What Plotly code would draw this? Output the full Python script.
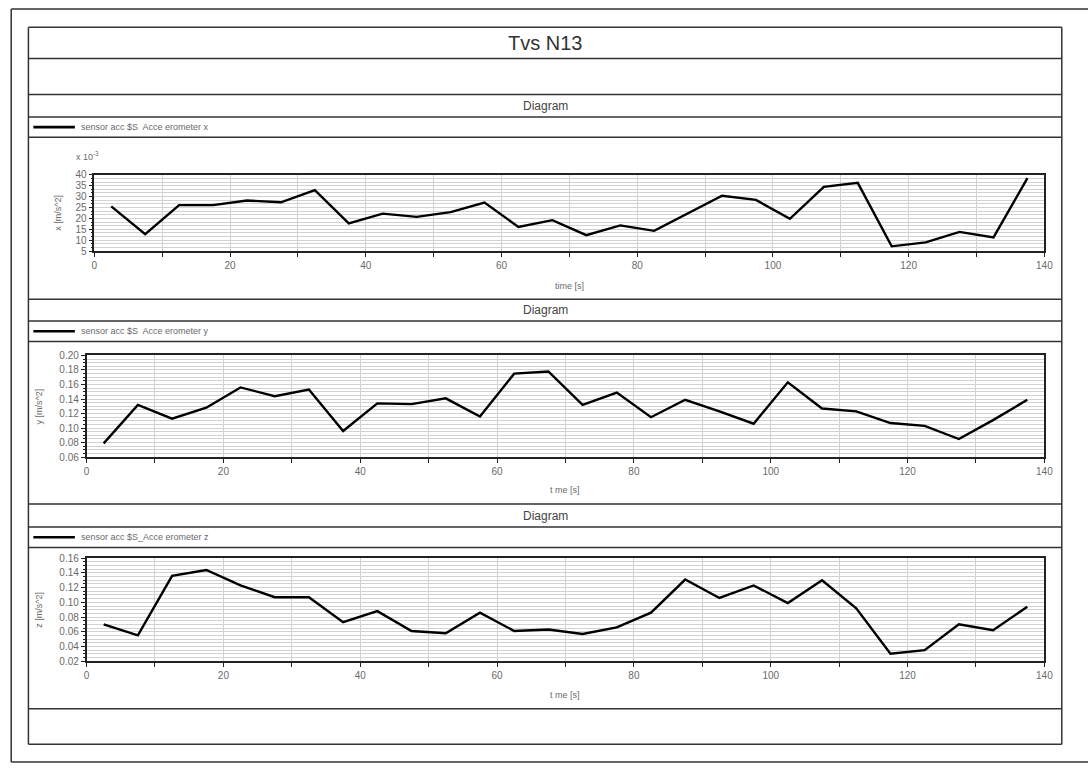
import plotly.graph_objects as go

W, H = 1088, 770

# Sample times [s]
time_s = [2.5, 7.5, 12.5, 17.5, 22.5, 27.5, 32.5, 37.5, 42.5, 47.5,
          52.5, 57.5, 62.5, 67.5, 72.5, 77.5, 82.5, 87.5, 92.5, 97.5,
          102.5, 107.5, 112.5, 117.5, 122.5, 127.5, 132.5, 137.5]

# Accelerometer x, in units of 1e-3 m/s^2
accel_x_milli = [25.5, 12.8, 26.1, 26.1, 28.2, 27.4, 33.0, 17.7, 22.2, 20.7,
                 22.9, 27.3, 16.1, 19.2, 12.3, 16.8, 14.3, 22.2, 30.4, 28.5,
                 19.8, 34.5, 36.3, 7.2, 9.0, 13.8, 11.3, 38.5]

# Accelerometer y [m/s^2]
accel_y = [0.079, 0.132, 0.113, 0.128, 0.156, 0.144, 0.153, 0.096, 0.134, 0.133,
           0.141, 0.116, 0.175, 0.178, 0.132, 0.149, 0.115, 0.139, 0.123, 0.106,
           0.163, 0.127, 0.123, 0.107, 0.103, 0.085, 0.111, 0.139]

# Accelerometer z [m/s^2]
accel_z = [0.070, 0.055, 0.136, 0.144, 0.123, 0.107, 0.107, 0.073, 0.088, 0.061,
           0.058, 0.086, 0.061, 0.063, 0.057, 0.066, 0.086, 0.131, 0.106, 0.123,
           0.099, 0.130, 0.092, 0.030, 0.035, 0.070, 0.062, 0.094]

page_title = "Tvs N13"
panel_title = "Diagram"
legend_labels = ["sensor acc $S  Acce erometer x",
                 "sensor acc $S  Acce erometer y",
                 "sensor acc $S_Acce erometer z"]
y_titles = ["x [m/s^2]", "y [m/s^2]", "z [m/s^2]"]
x_titles = ["time [s]", "t me [s]", "t me [s]"]
x_range = [0, 140]
y_ranges = [[5, 40], [0.06, 0.20], [0.02, 0.16]]
y_dticks = [5, 0.02, 0.02]
y_minor = [5 / 3, 0.005, 0.005]
y_formats = ["d", ".2f", ".2f"]
series = [accel_x_milli, accel_y, accel_z]


def px(x):
    return x / W


def py(y):
    return 1 - y / H


# Panel geometry in pixels: (left, right, top, bottom) of each plot area
plot_boxes = [(92.3, 1053, 171.5, 249),
              (84.5, 1053, 355, 458.3),
              (84.5, 1053, 561, 665.5)]
# Rows of each panel: diagram title row top, legend row top, plot row top, plot row bottom
panel_rows = [(90, 112.7, 133.3, 298),
              (298, 320, 340.7, 506),
              (506, 529.3, 550, 714)]

BOX_L, BOX_R = 25.7, 1070.6
GRID = "#d2d2d2"
TXT = "#6a6a6a"
FONT = "Liberation Sans, Arial, sans-serif"

fig = go.Figure()
layout = dict(width=W, height=H, margin=dict(l=0, r=0, t=0, b=0),
              paper_bgcolor="white", plot_bgcolor="white", showlegend=False)

annotations = []
shapes = []

for i in range(3):
    xa = "xaxis" if i == 0 else f"xaxis{i + 1}"
    ya = "yaxis" if i == 0 else f"yaxis{i + 1}"
    xr = "x" if i == 0 else f"x{i + 1}"
    yr = "y" if i == 0 else f"y{i + 1}"
    l, r, t, b = plot_boxes[i]
    fig.add_trace(go.Scatter(x=time_s, y=series[i], mode="lines",
                             line=dict(color="black", width=2.4),
                             xaxis=xr, yaxis=yr, hoverinfo="skip"))
    layout[xa] = dict(domain=[px(l), px(r)], range=x_range, anchor=yr,
                      dtick=20, tick0=0, showgrid=True, gridcolor=GRID, gridwidth=1,
                      ticks="outside", ticklen=4, tickcolor="#222",
                      minor=dict(dtick=10, showgrid=True, gridcolor=GRID,
                                 ticks="outside", ticklen=4, tickcolor="#222"),
                      showline=True, linecolor="#222", linewidth=1.5, mirror=True,
                      zeroline=False, tickfont=dict(family=FONT, size=10, color=TXT),
                      fixedrange=True)
    layout[ya] = dict(domain=[py(b), py(t)], range=y_ranges[i], anchor=xr,
                      dtick=y_dticks[i], tick0=y_ranges[i][0], tickformat=y_formats[i],
                      showgrid=True, gridcolor=GRID, gridwidth=1,
                      ticks="outside", ticklen=4, tickcolor="#222",
                      minor=dict(dtick=y_minor[i], showgrid=True, gridcolor=GRID,
                                 ticks="outside", ticklen=2, tickcolor="#222"),
                      showline=True, linecolor="#222", linewidth=1.5, mirror=True,
                      zeroline=False, tickfont=dict(family=FONT, size=10, color=TXT),
                      fixedrange=True)

    # y-axis title
    annotations.append(dict(text=y_titles[i], x=px(l - (37 if i == 0 else 48)),
                            y=py((t + b) / 2), xref="paper", yref="paper",
                            textangle=-90, showarrow=False,
                            xanchor="center", yanchor="middle",
                            font=dict(family=FONT, size=9, color=TXT)))
    # x-axis title
    xt_y = [284, 492, 700][i]
    annotations.append(dict(text=x_titles[i], x=px((l + r) / 2), y=py(xt_y),
                            xref="paper", yref="paper", showarrow=False,
                            xanchor="center", yanchor="middle",
                            font=dict(family=FONT, size=9, color=TXT)))

    r0, r1, r2, r3 = panel_rows[i]
    # "Diagram" heading
    annotations.append(dict(text=panel_title, x=px((BOX_L + BOX_R) / 2),
                            y=py((r0 + r1) / 2), xref="paper", yref="paper",
                            showarrow=False, xanchor="center", yanchor="middle",
                            font=dict(family=FONT, size=12, color="#444")))
    # Legend entry
    ly = (r1 + r2) / 2
    shapes.append(dict(type="line", xref="paper", yref="paper",
                       x0=px(30.7), x1=px(72.7), y0=py(ly), y1=py(ly),
                       line=dict(color="black", width=2.6)))
    annotations.append(dict(text=legend_labels[i], x=px(77), y=py(ly),
                            xref="paper", yref="paper", showarrow=False,
                            xanchor="left", yanchor="middle",
                            font=dict(family=FONT, size=9, color=TXT)))

# Scale factor label for the x panel
annotations.append(dict(text="x 10<sup>-3</sup>", x=px(72), y=py(152),
                        xref="paper", yref="paper", showarrow=False,
                        xanchor="left", yanchor="middle",
                        font=dict(family=FONT, size=9, color=TXT)))

# Page title
annotations.append(dict(text=page_title, x=px((BOX_L + BOX_R) / 2), y=py(37.5),
                        xref="paper", yref="paper", showarrow=False,
                        xanchor="center", yanchor="middle",
                        font=dict(family=FONT, size=20, color="#333")))

# Report frame: outer border and the ruled rows of the inner box
frame = dict(color="#333", width=1.5)
shapes.append(dict(type="line", xref="paper", yref="paper",
                   x0=px(8.3), x1=px(1100), y0=py(3), y1=py(3), line=frame))
shapes.append(dict(type="line", xref="paper", yref="paper",
                   x0=px(8.3), x1=px(1100), y0=py(768), y1=py(768), line=frame))
shapes.append(dict(type="line", xref="paper", yref="paper",
                   x0=px(8.3), x1=px(8.3), y0=py(3), y1=py(768), line=frame))

row_lines = [21.7, 53.3, 90, 112.7, 133.3, 298, 320, 340.7,
             506, 529.3, 550, 714, 750]
for yy in row_lines:
    shapes.append(dict(type="line", xref="paper", yref="paper",
                       x0=px(BOX_L), x1=px(BOX_R), y0=py(yy), y1=py(yy), line=frame))
for xx in (BOX_L, BOX_R):
    shapes.append(dict(type="line", xref="paper", yref="paper",
                       x0=px(xx), x1=px(xx), y0=py(21.7), y1=py(750), line=frame))

layout["annotations"] = annotations
layout["shapes"] = shapes
fig.update_layout(**layout)

fig.write_html("out.html")
